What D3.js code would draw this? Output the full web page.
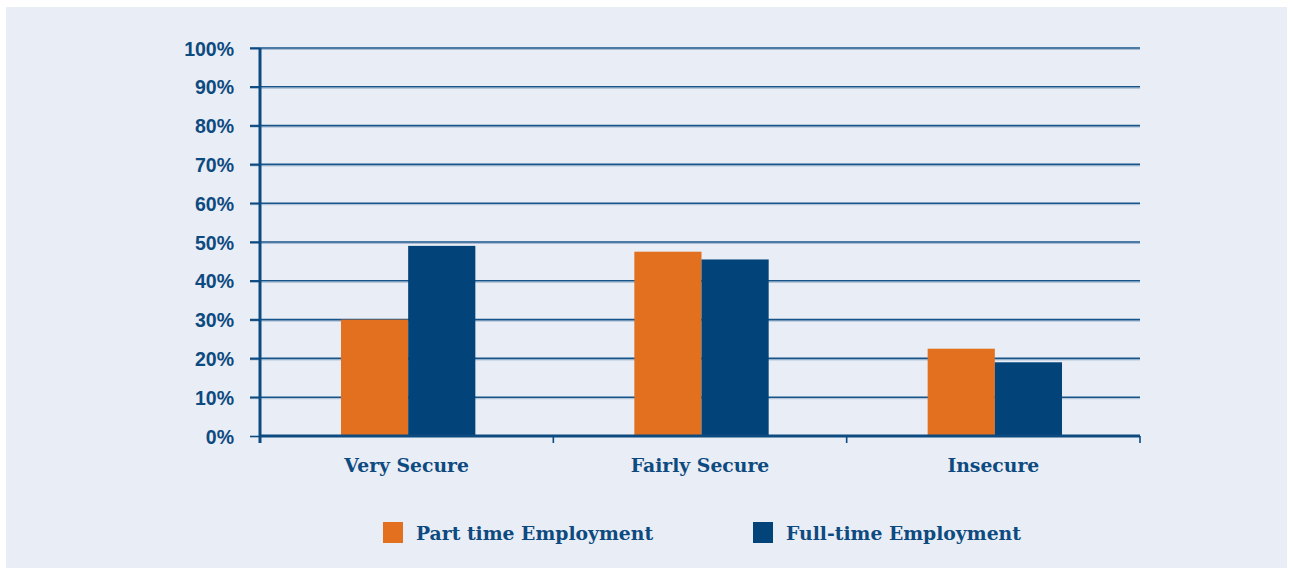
<!DOCTYPE html>
<html>
<head>
<meta charset="utf-8">
<script src="https://cdn.jsdelivr.net/npm/d3@7"></script>
<style>
  html, body { margin: 0; padding: 0; background: #ffffff; }
  svg { display: block; }
</style>
</head>
<body>
<svg id="chart" width="1290" height="570"></svg>
<script>
// Job security by employment type (share of respondents)
const categories = ["Very Secure", "Fairly Secure", "Insecure"];
const seriesNames = ["Part time Employment", "Full-time Employment"];
const partTime = [30, 47.5, 22.5];
const fullTime = [49, 45.5, 19];
const yTicks = [0, 10, 20, 30, 40, 50, 60, 70, 80, 90, 100];

const colors = { "Part time Employment": "#e2701e", "Full-time Employment": "#02447a" };
const ink = "#0d4a80";

const svg = d3.select("#chart");

// background panel
svg.append("rect")
  .attr("x", 6).attr("y", 7).attr("width", 1281).attr("height", 561)
  .attr("fill", "#e9edf5");

const margin = { left: 260, right: 1140, top: 48, bottom: 436 };

const x0 = d3.scaleBand().domain(categories).range([margin.left, margin.right]).paddingInner(0).paddingOuter(0);
const x1 = d3.scaleBand().domain(seriesNames).range([0, x0.bandwidth() * 0.458]).padding(0);
const y = d3.scaleLinear().domain([0, 100]).range([margin.bottom, margin.top]);

// horizontal gridlines with a faint light underline
const grid = svg.append("g");
grid.selectAll("line.shadow").data(yTicks.slice(1)).join("line")
  .attr("class", "shadow")
  .attr("x1", 250).attr("x2", margin.right)
  .attr("y1", d => y(d) + 1.5).attr("y2", d => y(d) + 1.5)
  .attr("stroke", "#a9bcd3").attr("stroke-width", 1);
grid.selectAll("line.main").data(yTicks.slice(1)).join("line")
  .attr("class", "main")
  .attr("x1", 250).attr("x2", margin.right)
  .attr("y1", d => y(d)).attr("y2", d => y(d))
  .attr("stroke", "#17548a").attr("stroke-width", 1.6);

// bars
const rows = categories.map((c, i) => ({ cat: c, values: [
  { name: seriesNames[0], v: partTime[i] },
  { name: seriesNames[1], v: fullTime[i] }
]}));
const groupOffset = (x0.bandwidth() - x1.range()[1]) / 2 + 1.5;
svg.append("g").selectAll("g").data(rows).join("g")
  .attr("transform", d => `translate(${x0(d.cat) + groupOffset},0)`)
  .selectAll("rect").data(d => d.values).join("rect")
  .attr("x", d => x1(d.name))
  .attr("width", x1.bandwidth())
  .attr("y", d => y(d.v))
  .attr("height", d => y(0) - y(d.v))
  .attr("fill", d => colors[d.name]);

// y axis
const yAxis = svg.append("g")
  .attr("transform", `translate(${margin.left},0)`)
  .call(d3.axisLeft(y).tickValues(yTicks).tickFormat(d => d + "%").tickSize(10).tickPadding(16));
yAxis.select(".domain").attr("stroke", ink).attr("stroke-width", 3)
  .attr("d", `M0,${margin.top}V${margin.bottom + 7}`);
yAxis.selectAll(".tick line").attr("stroke", ink).attr("stroke-width", 1.6);
yAxis.selectAll(".tick text")
  .attr("fill", ink)
  .attr("font-family", "'Liberation Sans', Arial, sans-serif")
  .attr("font-weight", "bold")
  .attr("font-size", 19.5)
  .attr("dy", "0.36em");

// x axis
const xAxis = svg.append("g")
  .attr("transform", `translate(0,${margin.bottom})`)
  .call(d3.axisBottom(x0).tickSize(0).tickPadding(0));
xAxis.select(".domain").attr("stroke", ink).attr("stroke-width", 3)
  .attr("d", `M${margin.left},0H${margin.right}`);
xAxis.selectAll(".tick text")
  .attr("fill", ink)
  .attr("font-family", "'DejaVu Serif', 'Liberation Serif', serif")
  .attr("font-weight", "bold")
  .attr("font-size", 18.8)
  .attr("y", 23);
// category boundary ticks
const bounds = categories.map(c => x0(c)).concat([margin.right]);
svg.append("g").selectAll("line").data(bounds).join("line")
  .attr("x1", d => d).attr("x2", d => d)
  .attr("y1", margin.bottom).attr("y2", margin.bottom + 7)
  .attr("stroke", ink).attr("stroke-width", 1.6);

// legend
const legendItems = [
  { name: seriesNames[0], x: 383 },
  { name: seriesNames[1], x: 753 }
];
const legend = svg.append("g").selectAll("g").data(legendItems).join("g")
  .attr("transform", d => `translate(${d.x},522)`);
legend.append("rect").attr("width", 20).attr("height", 21).attr("fill", d => colors[d.name]);
legend.append("text")
  .attr("x", 33).attr("y", 18)
  .attr("fill", ink)
  .attr("font-family", "'DejaVu Serif', 'Liberation Serif', serif")
  .attr("font-weight", "bold")
  .attr("font-size", 18.8)
  .text(d => d.name);
</script>
</body>
</html>
